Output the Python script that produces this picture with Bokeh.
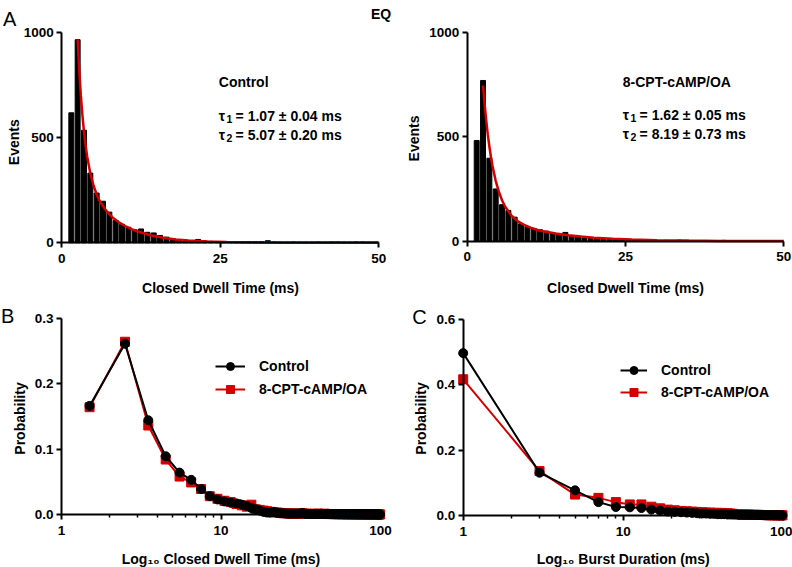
import math
from bokeh.plotting import figure
from bokeh.layouts import column, row
from bokeh.models import Label, Range1d, FixedTicker, PrintfTickFormatter, Legend, LegendItem
from bokeh.embed import file_html
from bokeh.resources import INLINE

FONT = "Liberation Sans"
RED = "#d40000"

# ---------------- data ----------------
hist_bins = [1.5, 2.5, 3.5, 4.5, 5.5, 6.5, 7.5, 8.5, 9.5, 10.5,
             11.5, 12.5, 13.5, 14.5, 15.5, 16.5, 17.5, 18.5, 19.5, 20.5,
             21.5, 22.5, 23.5, 24.5, 25.5, 26.5, 27.5, 28.5, 29.5, 30.5,
             31.5, 32.5, 33.5, 34.5, 35.5, 36.5, 37.5, 38.5, 39.5, 40.5,
             41.5, 42.5, 43.5, 44.5, 45.5, 46.5, 47.5, 48.5, 49.5]
control_counts = [619, 967, 536, 332, 237, 198, 146, 106, 88, 74,
                  62, 66, 50, 47, 35, 27, 20, 15, 12, 10,
                  16, 9, 7, 6, 5, 4, 6, 5, 6, 5,
                  6, 10, 4, 3, 3, 4, 3, 3, 3, 4,
                  3, 4, 4, 3, 3, 4, 4, 3, 3]
camp_counts = [482, 769, 397, 250, 175, 147, 115, 83, 70, 61,
               55, 48, 40, 35, 42, 24, 20, 17, 15, 12,
               10, 8, 7, 6, 5, 4, 4, 3, 3, 3,
               4, 3, 5, 3, 3, 2, 3, 2, 2, 4,
               2, 2, 2, 2, 3, 2, 2, 2, 2]

fit_t = [2.5, 2.75, 3.0, 3.25, 3.5, 3.75, 4.0, 4.5, 5.0, 5.5, 6.0, 7.0, 8.0, 9.0,
         10.0, 11.0, 12.0, 14.0, 16.0, 18.0, 20.0, 23.0, 26.0, 30.0, 35.0, 40.0, 45.0, 50.0]
control_fit = [967, 821, 703, 608, 529, 465, 411, 330, 273, 230, 198, 153, 121, 98,
               80, 65, 54, 36, 24, 16, 11, 6, 3.4, 1.5, 0.6, 0.2, 0.1, 0.0]
camp_fit = [745, 656, 579, 511, 453, 403, 360, 289, 237, 196, 165, 122, 95, 78,
            65, 55, 48, 37, 28, 22, 17, 12, 8, 5, 3, 1.5, 0.8, 0.4]

closed_t = [1.5, 2.5, 3.5, 4.5, 5.5, 6.5, 7.5, 8.5, 9.5, 10.5,
            11.5, 12.5, 13.5, 14.5, 15.5, 16.5, 17.5, 18.5, 19.5, 20.5,
            21.5, 22.5, 23.5, 24.5, 25.5, 26.5, 27.5, 28.5, 29.5, 30.5,
            31.5, 32.5, 33.5, 34.5, 35.5, 36.5, 37.5, 38.5, 39.5, 40.5,
            41.5, 42.5, 43.5, 44.5, 45.5, 46.5, 47.5, 48.5, 49.5, 50.5,
            51.5, 52.5, 53.5, 54.5, 55.5, 56.5, 57.5, 58.5, 59.5, 60.5,
            61.5, 62.5, 63.5, 64.5, 65.5, 66.5, 67.5, 68.5, 69.5, 70.5,
            71.5, 72.5, 73.5, 74.5, 75.5, 76.5, 77.5, 78.5, 79.5, 80.5,
            81.5, 82.5, 83.5, 84.5, 85.5, 86.5, 87.5, 88.5, 89.5, 90.5,
            91.5, 92.5, 93.5, 94.5, 95.5, 96.5, 97.5, 98.5, 99.5]
closed_control = [0.166, 0.261, 0.144, 0.089, 0.064, 0.053, 0.039, 0.028, 0.023, 0.020,
                  0.018, 0.017, 0.015, 0.013, 0.010, 0.008, 0.006, 0.004, 0.003, 0.003,
                  0.004, 0.0025, 0.002, 0.0018, 0.0015, 0.0012, 0.0015, 0.0013, 0.0015, 0.0013,
                  0.0015, 0.0025, 0.001, 0.0009, 0.0008, 0.001, 0.0008, 0.0008, 0.0008, 0.001,
                  0.0008, 0.001, 0.001, 0.0008, 0.0008, 0.001, 0.001, 0.0008, 0.0008, 0.0007,
                  0.0007, 0.0006, 0.0008, 0.0006, 0.0005, 0.0006, 0.0007, 0.0005, 0.0005, 0.0006,
                  0.0005, 0.0004, 0.0005, 0.0006, 0.0004, 0.0004, 0.0005, 0.0004, 0.0003, 0.0004,
                  0.0004, 0.0003, 0.0004, 0.0003, 0.0003, 0.0004, 0.0003, 0.0003, 0.0002, 0.0003,
                  0.0003, 0.0002, 0.0003, 0.0002, 0.0002, 0.0003, 0.0002, 0.0002, 0.0002, 0.0002,
                  0.0002, 0.0002, 0.0001, 0.0002, 0.0002, 0.0001, 0.0001, 0.0002, 0.0001]
closed_camp = [0.164, 0.264, 0.136, 0.084, 0.058, 0.049, 0.039, 0.028, 0.024, 0.021,
               0.019, 0.016, 0.014, 0.012, 0.015, 0.008, 0.007, 0.006, 0.005, 0.004,
               0.0035, 0.003, 0.0025, 0.002, 0.002, 0.0015, 0.0015, 0.0012, 0.0012, 0.0012,
               0.0013, 0.0018, 0.0012, 0.001, 0.001, 0.0008, 0.001, 0.0008, 0.0008, 0.0014,
               0.0008, 0.0008, 0.0008, 0.0012, 0.0008, 0.0007, 0.0007, 0.0007, 0.0007, 0.0006,
               0.0006, 0.0006, 0.0005, 0.0006, 0.0005, 0.0005, 0.0006, 0.0005, 0.0004, 0.0005,
               0.0004, 0.0005, 0.0004, 0.0004, 0.0004, 0.0003, 0.0004, 0.0003, 0.0004, 0.0003,
               0.0003, 0.0003, 0.0003, 0.0002, 0.0003, 0.0003, 0.0002, 0.0003, 0.0002, 0.0002,
               0.0002, 0.0002, 0.0002, 0.0003, 0.0002, 0.0002, 0.0002, 0.0001, 0.0002, 0.0002,
               0.0001, 0.0002, 0.0001, 0.0001, 0.0002, 0.0001, 0.0001, 0.0001, 0.0001]

burst_t = [1, 3, 5, 7, 9, 11, 13, 15, 17, 19,
           21, 23, 25, 27, 29, 31, 33, 35, 37, 39,
           41, 43, 45, 47, 49, 51, 53, 55, 57, 59,
           61, 63, 65, 67, 69, 71, 73, 75, 77, 79,
           81, 83, 85, 87, 89, 91, 93, 95, 97, 99]
burst_control = [0.497, 0.131, 0.077, 0.041, 0.026, 0.025, 0.023, 0.018, 0.015, 0.012,
                 0.011, 0.010, 0.009, 0.008, 0.007, 0.006, 0.006, 0.005, 0.005, 0.004,
                 0.004, 0.004, 0.003, 0.003, 0.003, 0.003, 0.002, 0.002, 0.002, 0.002,
                 0.002, 0.002, 0.002, 0.0015, 0.0015, 0.0015, 0.0012, 0.0012, 0.001, 0.001,
                 0.001, 0.001, 0.001, 0.0008, 0.0008, 0.0008, 0.0006, 0.0006, 0.0005, 0.0005]
burst_camp = [0.417, 0.136, 0.064, 0.054, 0.041, 0.034, 0.034, 0.027, 0.022, 0.018,
              0.016, 0.014, 0.013, 0.012, 0.011, 0.010, 0.009, 0.009, 0.008, 0.008,
              0.008, 0.007, 0.007, 0.006, 0.005, 0.004, 0.004, 0.003, 0.003, 0.003,
              0.003, 0.002, 0.002, 0.002, 0.002, 0.002, 0.0015, 0.0015, 0.0015, 0.001,
              0.001, 0.001, 0.001, 0.001, 0.0008, 0.0008, 0.0008, 0.0006, 0.0006, 0.0005]

series_names = ["Control", "8-CPT-cAMP/OA"]
control_taus = ["= 1.07 ± 0.04 ms", "= 5.07 ± 0.20 ms"]
camp_taus = ["= 1.62 ± 0.05 ms", "= 8.19 ± 0.73 ms"]
hist_ticks = [0, 25, 50]
count_ticks = [0, 500, 1000]
closed_prob_ticks = [0.0, 0.1, 0.2, 0.3]
burst_prob_ticks = [0.0, 0.2, 0.4, 0.6]
log_ticks = [1, 10, 100]
log_minor = [2, 3, 4, 5, 6, 7, 8, 9, 20, 30, 40, 50, 60, 70, 80, 90]

TICK_FS = "13.5px"
TITLE_FS = "14px"


# ---------------- geometry helpers ----------------
class Frame:
    """Canvas placed at (ox, oy) of size w x h; the plotting frame fills the whole
    canvas and data ranges are chosen so that two anchor values land on given pixels."""

    def __init__(self, ox, oy, w, h, xa, xb, ya, yb, xlog=False):
        self.ox, self.oy, self.w, self.h, self.xlog = ox, oy, w, h, xlog
        f = (lambda v: math.log10(v)) if xlog else (lambda v: v)
        self.x0, self.px0 = f(xa[0]), xa[1]
        self.sx = (xb[1] - xa[1]) / (f(xb[0]) - f(xa[0]))
        self.y0, self.py0 = ya[0], ya[1]
        self.sy = (ya[1] - yb[1]) / (yb[0] - ya[0])

    def dx(self, px):
        v = self.x0 + (px - self.px0) / self.sx
        return 10 ** v if self.xlog else v

    def dy(self, py):
        return self.y0 + (self.py0 - py) / self.sy

    def ranges(self):
        return (Range1d(self.dx(self.ox), self.dx(self.ox + self.w)),
                Range1d(self.dy(self.oy + self.h), self.dy(self.oy)))


def make_fig(fr, xticks, xminor, yticks, xfixed, yfixed, xbounds, ybounds, log=False):
    xr, yr = fr.ranges()
    p = figure(width=fr.w, height=fr.h, output_backend="svg", toolbar_location=None,
               x_range=xr, y_range=yr, x_axis_type="log" if log else "linear")
    p.min_border = 0
    p.min_border_left = p.min_border_right = p.min_border_top = p.min_border_bottom = 0
    p.outline_line_color = None
    p.grid.visible = False
    p.xaxis.fixed_location = xfixed
    p.yaxis.fixed_location = yfixed
    p.xaxis.bounds = xbounds
    p.yaxis.bounds = ybounds
    p.xaxis.ticker = FixedTicker(ticks=xticks, minor_ticks=xminor)
    p.yaxis.ticker = FixedTicker(ticks=yticks, minor_ticks=[])
    for ax in p.axis:
        ax.axis_line_width = 2
        ax.axis_line_color = "black"
        ax.major_tick_line_width = 2
        ax.major_tick_line_color = "black"
        ax.minor_tick_line_width = 1.5
        ax.minor_tick_line_color = "black"
        ax.major_tick_out = 5
        ax.major_tick_in = 0
        ax.minor_tick_out = 3
        ax.minor_tick_in = 0
        ax.major_label_text_font = FONT
        ax.major_label_text_font_style = "bold"
        ax.major_label_text_font_size = TICK_FS
        ax.major_label_text_color = "black"
    p.yaxis.major_label_standoff = 3
    p.xaxis.major_label_standoff = 6
    return p


def add_text(p, fr, px, py, text, size="14px", style="bold", align="left",
             baseline="alphabetic", angle=0.0):
    p.add_layout(Label(x=fr.dx(px), y=fr.dy(py), text=text, text_font=FONT,
                       text_font_size=size, text_font_style=style, text_align=align,
                       text_baseline=baseline, angle=angle, text_color="black"))


def add_tau(p, fr, px, py, sub, rest):
    add_text(p, fr, px, py, "τ")
    add_text(p, fr, px + 7.8, py + 3, sub, size="10.5px")
    add_text(p, fr, px + 16.8, py, rest)


def histogram(fr, counts, fit, name, taus, pos):
    p = make_fig(fr, hist_ticks, [], count_ticks, 0, 0, (0, 50), (0, 1000))
    p.vbar(x=hist_bins, top=counts, width=0.78, color="black")
    p.line(fit_t, fit, color=RED, line_width=2.5)
    add_text(p, fr, pos["tx"], pos["t0"], name)
    add_tau(p, fr, pos["tx"], pos["t1"], "1", taus[0])
    add_tau(p, fr, pos["tx"], pos["t2"], "2", taus[1])
    add_text(p, fr, pos["ex"], pos["ey"], "Events", size=TITLE_FS, align="center",
             baseline="middle", angle=math.pi / 2)
    add_text(p, fr, pos["cx"], 287, "Closed Dwell Time (ms)", size=TITLE_FS,
             align="center", baseline="middle")
    return p


def dist(fr, ymax, yticks, xlabel, xs, yc, yr, pos):
    p = make_fig(fr, log_ticks, log_minor, yticks, 0, 1, (1, 100), (0, ymax), log=True)
    p.yaxis.formatter = PrintfTickFormatter(format="%.1f")
    p.xaxis.formatter = PrintfTickFormatter(format="%d")
    rl = p.line(xs, yr, color=RED, line_width=2)
    rs = p.scatter(xs, yr, marker="square", size=9, color=RED)
    bl = p.line(xs, yc, color="black", line_width=2)
    bs = p.scatter(xs, yc, marker="circle", size=9, color="black")
    leg = Legend(items=[LegendItem(label=series_names[0], renderers=[bl, bs]),
                        LegendItem(label=series_names[1], renderers=[rl, rs])],
                 location=pos["leg"], orientation="vertical",
                 glyph_width=pos["gw"], glyph_height=20, label_height=20,
                 spacing=pos["sp"], label_standoff=14, padding=0, margin=0,
                 border_line_color=None, background_fill_alpha=0,
                 label_text_font=FONT, label_text_font_style="bold",
                 label_text_font_size="14px", label_text_color="black")
    p.add_layout(leg, "center")
    add_text(p, fr, pos["px"], 418, "Probability", size=TITLE_FS, align="center",
             baseline="middle", angle=math.pi / 2)
    add_text(p, fr, pos["lx"], 558, xlabel, size=TITLE_FS, align="center",
             baseline="middle")
    return p


# ---------------- panels ----------------
frA = Frame(0, 0, 396, 296, (0, 61.3), (50, 378.3), (0, 242.3), (1000, 32.3))
pA = histogram(frA, control_counts, control_fit, "Control", control_taus,
               dict(tx=218.3, t0=81.7, t1=115.5, t2=134.5, ex=13, ey=141.7, cx=220))
add_text(pA, frA, 2.5, 18.5, "A", size="20px", style="normal")
add_text(pA, frA, 380.5, 13.0, "EQ", size="14px", align="center")

frA2 = Frame(396, 0, 396, 296, (0, 466.7), (50, 783.3), (0, 240.7), (1000, 31.7))
pA2 = histogram(frA2, camp_counts, camp_fit, "8-CPT-cAMP/OA", camp_taus,
                dict(tx=622.3, t0=81.7, t1=114.5, t2=133.0, ex=413.3, ey=138, cx=625))

frB = Frame(0, 296, 396, 271, (1, 61), (100, 380), (0, 514), (0.3, 317.7), xlog=True)
pB = dist(frB, 0.3, closed_prob_ticks, "Log₁₀ Closed Dwell Time (ms)",
          closed_t, closed_control, closed_camp,
          dict(leg=(215, 168), gw=30, sp=3, px=19, lx=220.5))
add_text(pB, frB, 0.5, 315, "B", size="20px", style="normal")

frC = Frame(396, 296, 396, 271, (1, 462.7), (100, 782.7), (0, 515), (0.6, 319), xlog=True)
pC = dist(frC, 0.6, burst_prob_ticks, "Log₁₀ Burst Duration (ms)",
          burst_t, burst_control, burst_camp,
          dict(leg=(224, 165), gw=27, sp=2, px=420, lx=622.7))
add_text(pC, frC, 411.7, 316.7, "C", size="20px", style="normal")

layout = column(row(pA, pA2), row(pB, pC))
open("out.html", "w").write(file_html(layout, INLINE))
